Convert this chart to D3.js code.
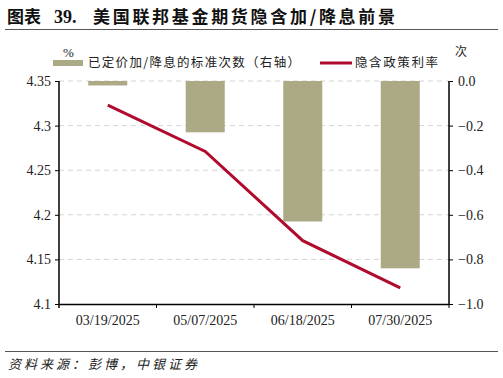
<!DOCTYPE html>
<html>
<head>
<meta charset="utf-8">
<script src="https://cdn.jsdelivr.net/npm/d3@7"></script>
<style>
  body { margin: 0; background: #fff; }
  svg { display: block; }
</style>
</head>
<body>
<div id="chart"></div>
<script>
// data
const dates = ["03/19/2025", "05/07/2025", "06/18/2025", "07/30/2025"];
const hikeCuts = [-0.02, -0.23, -0.63, -0.84];      // 已定价加/降息的标准次数（右轴）
const impliedRate = [4.323, 4.271, 4.171, 4.118];   // 隐含政策利率
const leftTicks = [4.1, 4.15, 4.2, 4.25, 4.3, 4.35];
const rightTicks = [-1.0, -0.8, -0.6, -0.4, -0.2, 0.0];

const W = 503, H = 378;
const margin = {top: 81, right: 54, bottom: 74, left: 59};
const width = W - margin.left - margin.right,
      height = H - margin.top - margin.bottom;

const serif = "'Liberation Serif', 'Times New Roman', serif";
const cjk = "'Noto Sans CJK SC', sans-serif";
const barColor = "#aca985";
const lineColor = "#b00a2e";

const svg = d3.select("#chart").append("svg")
    .attr("width", W)
    .attr("height", H);

// title
const title = svg.append("g")
    .attr("font-weight", "bold")
    .attr("fill", "#111");
title.append("text")
    .attr("x", 7).attr("y", 23)
    .attr("font-family", cjk)
    .attr("font-size", "17px")
    .attr("textLength", 34)
    .attr("lengthAdjust", "spacing")
    .text("图表");
title.append("text")
    .attr("x", 54).attr("y", 23)
    .attr("font-family", serif)
    .attr("font-size", "18px")
    .text("39.");
title.append("text")
    .attr("x", 93).attr("y", 23)
    .attr("font-family", cjk)
    .attr("font-size", "17px")
    .attr("textLength", 302)
    .attr("lengthAdjust", "spacing")
    .text("美国联邦基金期货隐含加/降息前景");

svg.append("line")
    .attr("x1", 5).attr("x2", 498)
    .attr("y1", 29.5).attr("y2", 29.5)
    .style("stroke", "#555")
    .style("stroke-width", 1.2);

svg.append("line")
    .attr("x1", 5).attr("x2", 498)
    .attr("y1", 351.5).attr("y2", 351.5)
    .style("stroke", "#555")
    .style("stroke-width", 1.2);

svg.append("text")
    .attr("x", 8)
    .attr("y", 369)
    .attr("font-family", cjk)
    .attr("font-style", "italic")
    .attr("font-size", "13px")
    .attr("fill", "#222")
    .attr("textLength", 189)
    .attr("lengthAdjust", "spacing")
    .text("资料来源：彭博，中银证券");

const bounds = svg.append("g")
    .attr("transform", `translate(${margin.left},${margin.top})`);

// scales
const x = d3.scaleBand()
    .domain(dates)
    .range([0, width]);

const yL = d3.scaleLinear()
    .domain([4.1, 4.35])
    .range([height, 0]);

const yR = d3.scaleLinear()
    .domain([-1.0, 0.0])
    .range([height, 0]);

// grid
bounds.append("g")
    .selectAll("line")
    .data(leftTicks.filter(d => d > 4.1))
    .join("line")
    .attr("x1", 0).attr("x2", width)
    .attr("y1", d => yL(d)).attr("y2", d => yL(d))
    .style("stroke", "#d4d4d4")
    .style("stroke-width", 1)
    .style("stroke-dasharray", "5,4");

// bars
const barW = x.bandwidth() * 0.4;
bounds.append("g")
    .selectAll("rect")
    .data(hikeCuts)
    .join("rect")
    .attr("x", (d, i) => x(dates[i]) + (x.bandwidth() - barW) / 2)
    .attr("y", yR(0))
    .attr("width", barW)
    .attr("height", d => yR(d) - yR(0))
    .attr("fill", barColor);

// line
const line = d3.line()
    .x((d, i) => x(dates[i]) + x.bandwidth() / 2)
    .y(d => yL(d));

bounds.append("path")
    .datum(impliedRate)
    .attr("d", line)
    .attr("fill", "none")
    .attr("stroke", lineColor)
    .attr("stroke-width", 3);

// axes
const leftAxis = bounds.append("g")
    .call(d3.axisLeft(yL).tickValues(leftTicks).tickSize(4).tickFormat(d => d3.format("")(+d.toFixed(2))));

const rightAxis = bounds.append("g")
    .attr("transform", `translate(${width},0)`)
    .call(d3.axisRight(yR).tickValues(rightTicks).tickSize(4).tickFormat(d3.format(".1f")));

const xAxis = bounds.append("g")
    .attr("transform", `translate(0,${height})`)
    .call(d3.axisBottom(x).tickSize(0));

// tick marks at band boundaries
xAxis.append("g")
    .selectAll("line")
    .data(dates)
    .join("line")
    .attr("x1", d => x(d) + x.bandwidth())
    .attr("x2", d => x(d) + x.bandwidth())
    .attr("y1", 0).attr("y2", 4)
    .attr("stroke", "#000");

[leftAxis, rightAxis, xAxis].forEach(g => {
    g.select(".domain").attr("stroke", "#000").attr("stroke-width", 1.5);
    g.selectAll(".tick line").attr("stroke", "#000");
    g.selectAll("text")
        .attr("font-family", serif)
        .attr("font-size", "14px")
        .attr("fill", "#222");
});
leftAxis.selectAll(".domain").attr("d", `M0,${height + 4}V0`);
rightAxis.selectAll(".domain").attr("d", `M0,${height}V0`);
leftAxis.selectAll("text").attr("x", -8);
rightAxis.selectAll("text").attr("x", 9);
xAxis.selectAll(".tick text").attr("dy", "1.2em").attr("y", 4);

// units
svg.append("text")
    .attr("x", 63).attr("y", 57)
    .attr("font-family", serif)
    .attr("font-size", "13px")
    .attr("fill", "#222")
    .text("%");

svg.append("text")
    .attr("x", 455).attr("y", 56)
    .attr("font-family", cjk)
    .attr("font-size", "12px")
    .attr("fill", "#222")
    .text("次");

// legend
const legend = svg.append("g");
legend.append("rect")
    .attr("x", 53).attr("y", 60)
    .attr("width", 30).attr("height", 6)
    .attr("fill", barColor);
legend.append("text")
    .attr("x", 88).attr("y", 67)
    .attr("font-family", cjk)
    .attr("font-size", "12.5px")
    .attr("fill", "#222")
    .attr("textLength", 212)
    .attr("lengthAdjust", "spacing")
    .text("已定价加/降息的标准次数（右轴）");
legend.append("line")
    .attr("x1", 320).attr("x2", 352)
    .attr("y1", 63).attr("y2", 63)
    .attr("stroke", lineColor)
    .attr("stroke-width", 3);
legend.append("text")
    .attr("x", 355).attr("y", 67)
    .attr("font-family", cjk)
    .attr("font-size", "12.5px")
    .attr("fill", "#222")
    .attr("textLength", 83)
    .attr("lengthAdjust", "spacing")
    .text("隐含政策利率");
</script>
</body>
</html>
